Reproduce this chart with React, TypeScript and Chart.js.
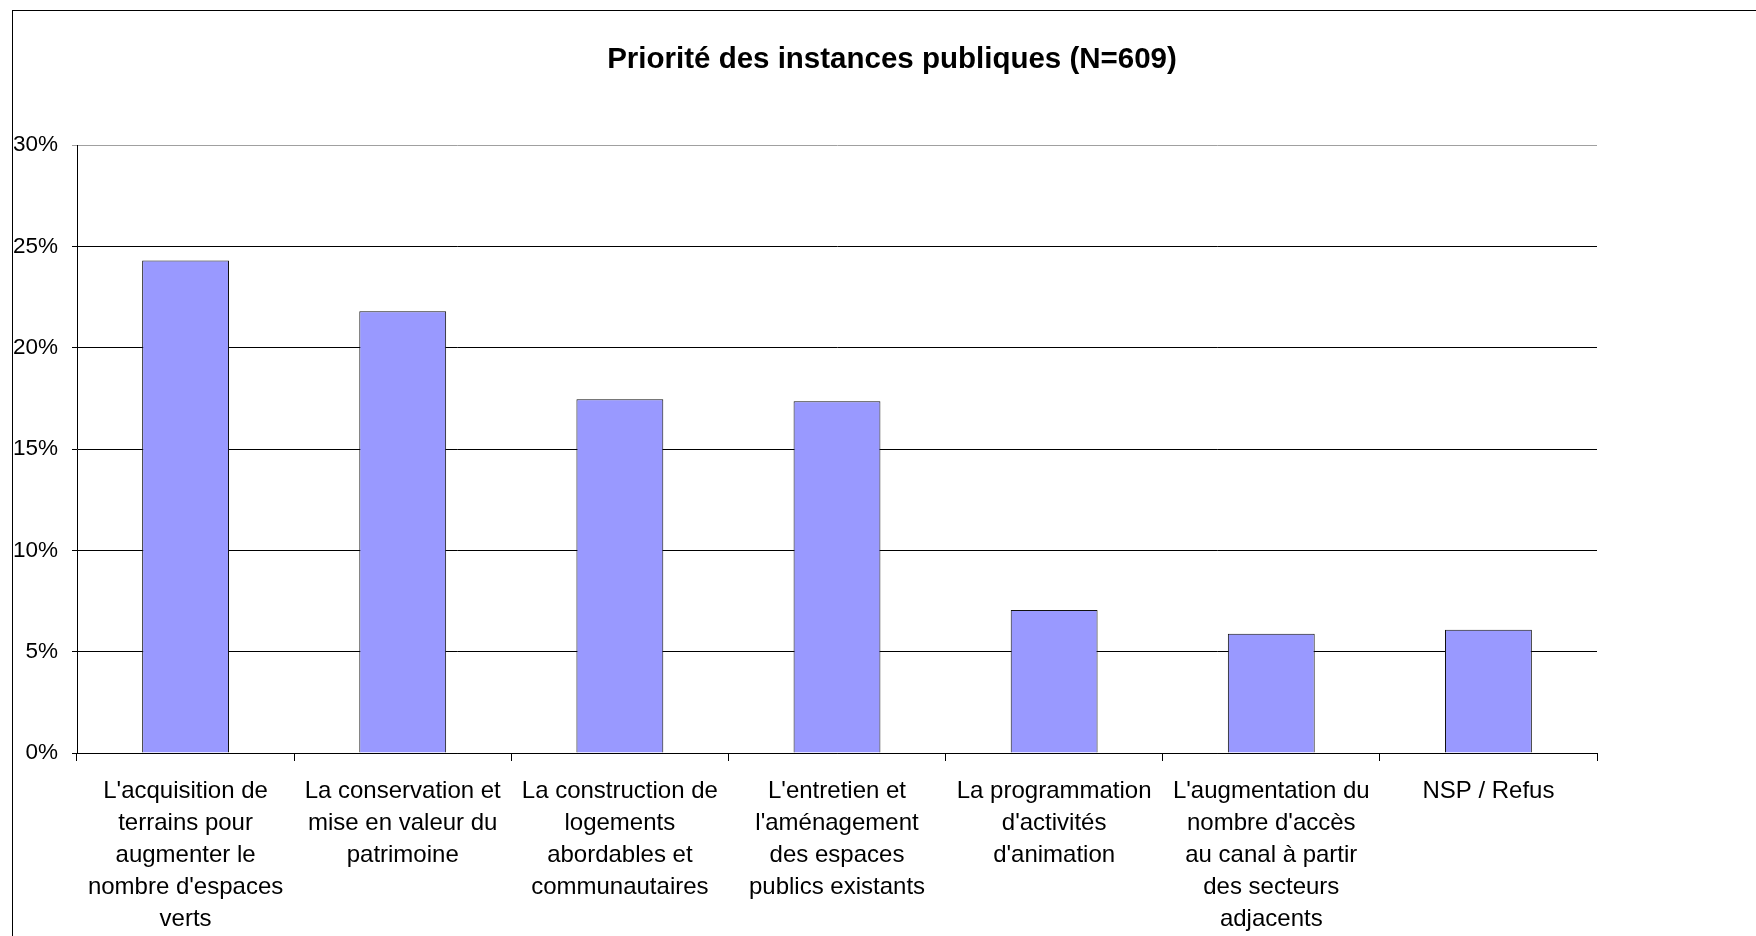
import React, { useEffect, useRef } from 'react';
import { Chart, registerables } from 'chart.js';

Chart.register(...registerables);

const chartTitle = 'Priorité des instances publiques (N=609)';

const categories: string[][] = [
  ["L'acquisition de", 'terrains pour', 'augmenter le', "nombre d'espaces", 'verts'],
  ['La conservation et', 'mise en valeur du', 'patrimoine'],
  ['La construction de', 'logements', 'abordables et', 'communautaires'],
  ["L'entretien et", "l'aménagement", 'des espaces', 'publics existants'],
  ['La programmation', "d'activités", "d'animation"],
  ["L'augmentation du", "nombre d'accès", 'au canal à partir', 'des secteurs', 'adjacents'],
  ['NSP / Refus'],
];

const values: number[] = [24.3, 21.8, 17.45, 17.35, 7.06, 5.88, 6.08];

const yTickValues: number[] = [0, 5, 10, 15, 20, 25, 30];
const yTickLabels: string[] = ['0%', '5%', '10%', '15%', '20%', '25%', '30%'];

const FONT = "'Liberation Sans', Arial, Helvetica, sans-serif";

export default function App() {
  const ref = useRef<HTMLCanvasElement>(null);

  useEffect(() => {
    if (!ref.current) return;
    const chart = new Chart(ref.current, {
      type: 'bar',
      data: {
        labels: categories,
        datasets: [
          {
            data: values,
            backgroundColor: '#9999ff',
            borderColor: '#111',
            borderWidth: 1,
            barPercentage: 0.4,
            categoryPercentage: 1,
            yAxisID: 'y',
          },
        ],
      },
      options: {
        responsive: false,
        animation: false,
        devicePixelRatio: 1,
        layout: { padding: 0 },
        plugins: {
          legend: { display: false },
          tooltip: { enabled: false },
          title: {
            display: true,
            text: chartTitle,
            color: '#000',
            font: { family: FONT, size: 29.5, weight: 'bold', lineHeight: 1.2 },
            padding: { top: 30.5, bottom: 67.1 },
          },
        },
        scales: {
          x: {
            grid: {
              display: true,
              drawOnChartArea: false,
              drawTicks: true,
              tickLength: 8,
              color: '#000',
              offset: true,
            },
            border: { display: true, color: '#000', width: 1 },
            ticks: {
              color: '#000',
              font: { family: FONT, size: 24, lineHeight: 1.333 },
              padding: 14,
              maxRotation: 0,
              minRotation: 0,
              autoSkip: false,
            },
            afterFit: (s: any) => {
              s.height = 219;
            },
          },
          y: {
            min: yTickValues[0],
            max: yTickValues[yTickValues.length - 1],
            ticks: {
              stepSize: 5,
              color: '#000',
              font: { family: FONT, size: 22.5 },
              padding: 14,
              callback: (_v: any, i: number) => yTickLabels[i],
            },
            grid: {
              color: (ctx: any) =>
                ctx.tick && ctx.tick.value === yTickValues[yTickValues.length - 1] ? '#a0a0a0' : '#000',
              tickLength: 5,
              drawTicks: true,
            },
            border: { display: true, color: '#000', width: 1 },
            afterFit: (s: any) => {
              s.width = 63;
            },
          },
          yR: {
            type: 'linear',
            position: 'right',
            display: true,
            grid: { display: false },
            border: { display: false },
            ticks: { display: false },
            afterFit: (s: any) => {
              s.width = 173;
            },
          },
        },
      } as any,
    });
    return () => chart.destroy();
  }, []);

  return (
    <div
      style={{
        position: 'fixed',
        left: 0,
        top: 0,
        width: 1756,
        height: 936,
        overflow: 'hidden',
        background: '#fff',
      }}
    >
      <div
        style={{
          position: 'absolute',
          left: 12,
          top: 10,
          width: 1790,
          height: 990,
          borderLeft: '1px solid #000',
          borderTop: '1px solid #000',
          boxSizing: 'border-box',
        }}
      >
        <canvas
          ref={ref}
          width={1756}
          height={960}
          style={{ display: 'block', width: 1756, height: 960, marginLeft: 1, marginTop: 1 }}
        />
      </div>
    </div>
  );
}
